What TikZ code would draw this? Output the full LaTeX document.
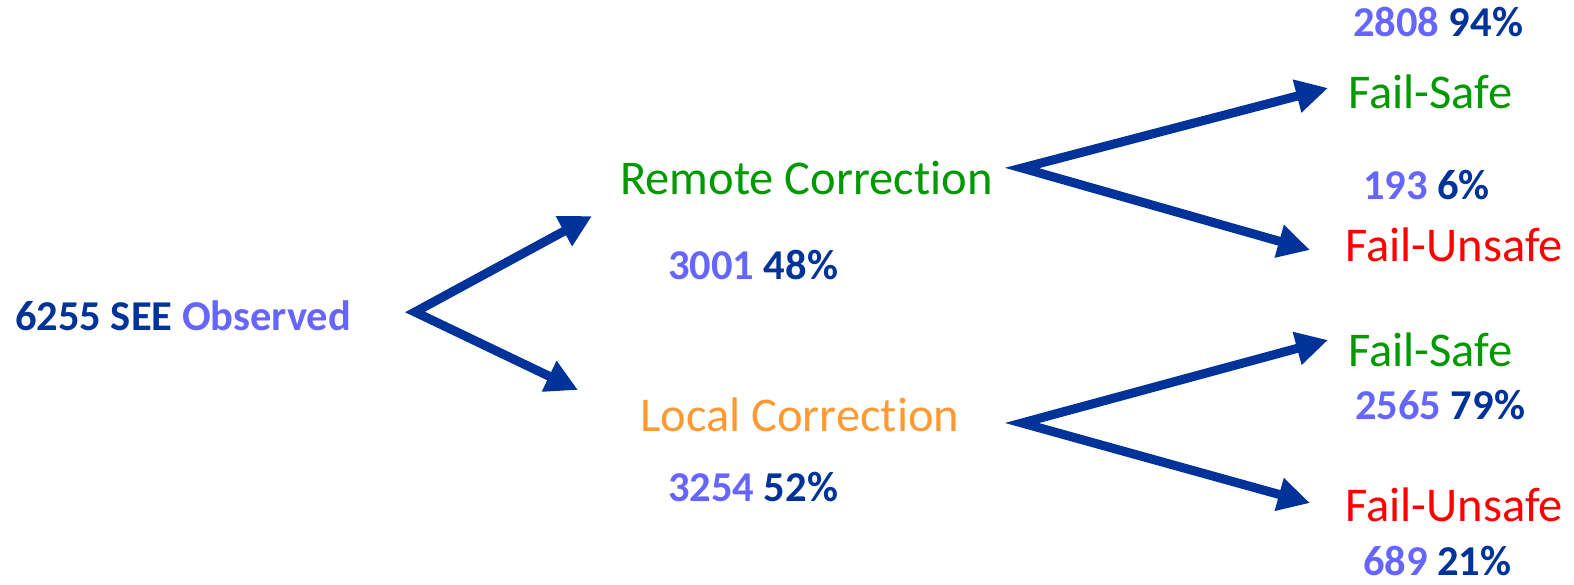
\documentclass[tikz,border=0pt]{standalone}
\usepackage{fontspec}
\setmainfont[Ligatures={NoCommon,NoRare,NoContextual}]{Carlito}
\usetikzlibrary{arrows.meta}
\definecolor{deepblue}{HTML}{003399}
\definecolor{paleblue}{HTML}{6666FF}
\definecolor{okgreen}{HTML}{009900}
\definecolor{badred}{HTML}{FF0000}
\definecolor{locorange}{HTML}{FF9933}
\begin{document}
\begin{tikzpicture}[x=1pt, y=-1pt,
  lab/.style={inner sep=0pt, anchor=west, font=\fontsize{48.5}{52}\selectfont},
  cnt/.style={inner sep=0pt, anchor=west, font=\fontsize{42.5}{46}\selectfont\bfseries},
  fork/.style={line width=9pt, deepblue, line join=miter,
    {Triangle[length=32pt,width=32pt]}-{Triangle[length=32pt,width=32pt]}}]
\useasboundingbox (0,0) rectangle (1574,584);
% left part
\node[cnt] (root) at (15,316) {\color{deepblue}6255 SEE \color{paleblue}Observed};
\node[lab, okgreen] (remote) at (620,178) {Remote Correction};
\node[cnt] (remoteN) at (668,265) {\color{paleblue}3001 \color{deepblue}48\%};
\node[lab, locorange] (local) at (640,415) {Local Correction};
\node[cnt] (localN) at (668,487) {\color{paleblue}3254 \color{deepblue}52\%};
% right part
\node[cnt] (safeAN) at (1353,22) {\color{paleblue}2808 \color{deepblue}94\%};
\node[lab, okgreen] (safeA) at (1348,92) {Fail-Safe};
\node[cnt] (unsafeAN) at (1363,185) {\color{paleblue}193 \color{deepblue}6\%};
\node[lab, badred] (unsafeA) at (1345,245) {Fail-Unsafe};
\node[lab, okgreen] (safeB) at (1348,350) {Fail-Safe};
\node[cnt] (safeBN) at (1355,405) {\color{paleblue}2565 \color{deepblue}79\%};
\node[lab, badred] (unsafeB) at (1345,505) {Fail-Unsafe};
\node[cnt] (unsafeBN) at (1363,561) {\color{paleblue}689 \color{deepblue}21\%};
% forks
\coordinate (rootFork) at (415,312);
\coordinate (rootUp) at (592,216);
\coordinate (rootDown) at (578,390);
\coordinate (remoteFork) at (1022,168);
\coordinate (remoteUp) at (1328,88);
\coordinate (remoteDown) at (1310,250);
\coordinate (localFork) at (1022,423);
\coordinate (localUp) at (1328,340);
\coordinate (localDown) at (1310,503);
\foreach \f in {root,remote,local}
  \draw[fork] (\f Up) -- (\f Fork) -- (\f Down);
\end{tikzpicture}
\end{document}
